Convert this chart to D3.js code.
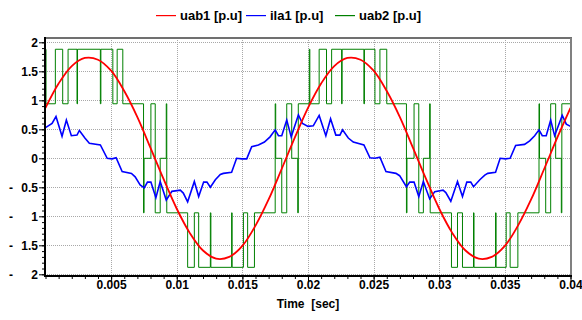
<!DOCTYPE html>
<html><head><meta charset="utf-8">
<script src="https://cdn.jsdelivr.net/npm/d3@7/dist/d3.min.js"></script>
<style>
html,body{margin:0;padding:0;background:#fff;}
svg text{font-family:"Liberation Sans",Arial,sans-serif;font-weight:bold;font-size:12px;fill:#000;}
</style></head><body>
<svg id="chart" width="582" height="320"></svg>
<script>
// ---------- data ----------
const seriesNames = ["uab1 [p.u]", "ila1 [p.u]", "uab2 [p.u]"];
const xAxisTitle = "Time  [sec]";
const xTicks = [0.005, 0.01, 0.015, 0.02, 0.025, 0.03, 0.035, 0.04];
const xTickLabels = ["0.005", "0.01", "0.015", "0.02", "0.025", "0.03", "0.035", "0.04"];
const yTicks = [-2, -1.5, -1, -0.5, 0, 0.5, 1, 1.5, 2];
const yTickLabels = ["- 2", "- 1.5", "- 1", "- 0.5", "0", "0.5", "1", "1.5", "2"];

const uab1Time = [0,0.001,0.002,0.003,0.004,0.005,0.006,0.007,0.008,0.009,0.010,0.011,0.012,0.013,0.014,0.015,0.016,0.017,0.018,0.019,
  0.020,0.021,0.022,0.023,0.024,0.025,0.026,0.027,0.028,0.029,0.030,0.031,0.032,0.033,0.034,0.035,0.036,0.037,0.038,0.039,0.040];
const uab1Val = [0.87,1.29,1.59,1.73,1.70,1.51,1.16,0.71,0.18,-0.36,-0.87,-1.29,-1.59,-1.73,-1.70,-1.51,-1.16,-0.71,-0.18,0.36,
  0.87,1.29,1.59,1.73,1.70,1.51,1.16,0.71,0.18,-0.36,-0.87,-1.29,-1.59,-1.73,-1.70,-1.51,-1.16,-0.71,-0.18,0.36,0.87];

const ila1Time = [0,0.0005,0.0008,0.00126,0.00159,0.00197,0.0024,0.00258,0.003,0.00334,0.00418,0.0047,0.00508,0.00538,0.00584,0.00655,
  0.00683,0.00721,0.00752,0.00777,0.00803,0.00841,0.00874,0.0092,0.00963,0.01027,0.0105,0.01083,0.01134,0.01167,0.01205,0.0123,0.01256,
  0.01294,0.01332,0.01355,0.01418,0.01456,0.01495,0.01533,0.01571,0.01622,0.01668,0.01711,0.0175,0.01775,0.018,0.01838,0.01872,0.01927,
  0.01958,0.02,0.0204,0.02085,0.02136,0.02172,0.02212,0.02243,0.02263,0.02307,0.02345,0.02426,0.02472,0.0251,0.02548,0.02594,0.0267,
  0.02698,0.0275,0.02775,0.02808,0.02844,0.02879,0.02927,0.02966,0.03029,0.0305,0.03088,0.03139,0.03177,0.0321,0.0324,0.03261,0.03309,
  0.03347,0.0337,0.03429,0.03464,0.03505,0.0354,0.03582,0.0365,0.03689,0.03727,0.0376,0.03785,0.03815,0.03849,0.03879,0.03937,0.03968,0.04];
const ila1Val = [0.53,0.60,0.72,0.38,0.66,0.39,0.40,0.48,0.35,0.26,0.23,0.0,-0.01,0.01,-0.23,-0.26,
  -0.32,-0.46,-0.51,-0.41,-0.41,-0.68,-0.40,-0.72,-0.57,-0.55,-0.60,-0.75,-0.40,-0.66,-0.41,-0.41,-0.50,
  -0.37,-0.28,-0.26,-0.24,0.0,-0.01,-0.01,0.20,0.23,0.28,0.37,0.49,0.39,0.39,0.66,0.37,0.75,
  0.60,0.55,0.56,0.74,0.39,0.68,0.40,0.40,0.49,0.35,0.28,0.23,0.01,0.0,0.02,-0.23,-0.26,
  -0.30,-0.49,-0.41,-0.41,-0.66,-0.40,-0.70,-0.575,-0.55,-0.59,-0.74,-0.40,-0.66,-0.41,-0.41,-0.49,-0.37,
  -0.29,-0.26,-0.24,0.0,-0.01,0.0,0.22,0.24,0.30,0.39,0.49,0.39,0.39,0.66,0.39,0.74,0.59,0.55];

// step signal: level holds from each time until the next one
const uab2Time = [0,0.00004,0.00075,0.00131,0.00172,0.0024,0.00244,0.00418,0.00422,0.00513,0.00546,0.00589,
  0.00747,0.00751,0.00803,0.00836,0.00874,0.0092,0.00924,0.01083,0.01134,0.01167,0.01256,0.0126,0.01418,0.01422,
  0.01508,0.0154,0.01592,0.0175,0.01754,0.018,0.01838,0.01876,0.01922,0.01926,0.0201,0.02014,0.02085,0.02141,
  0.0218,0.02256,0.0226,0.02426,0.0243,0.0251,0.02548,0.026,0.0275,0.02754,0.02808,0.02844,0.02879,0.02927,0.02931,
  0.03093,0.03139,0.03177,0.03261,0.03265,0.03429,0.03433,0.0351,0.0354,0.03599,0.0376,0.03764,0.03811,0.03849,
  0.03887,0.0393,0.03934,0.04];
const uab2Level = [1.88,0.94,1.88,0.94,1.88,0.94,1.88,0.94,1.88,0.94,1.88,0.94,
  -0.94,0,0.94,-0.94,0,0.94,-0.94,-1.88,-0.94,-1.88,-0.94,-1.88,-0.94,-1.88,
  -0.94,-1.88,-0.94,0.94,0,-0.94,0.94,0,-0.94,0.94,1.88,0.94,1.88,0.94,
  1.88,0.94,1.88,0.94,1.88,0.94,1.88,0.94,-0.94,0,0.94,-0.94,0,0.94,-0.94,
  -1.88,-0.94,-1.88,-0.94,-1.88,-0.94,-1.88,-0.94,-1.88,-0.94,0.94,0,-0.94,0.94,
  0,-0.94,0.94,0.94];

// ---------- drawing ----------
const svg = d3.select("#chart");
const L = 45, R = 571, T = 38, B = 276;
const x = d3.scaleLinear().domain([0, 0.04]).range([45.5, 570.5]);
const y = d3.scaleLinear().domain([-2, 2]).range([274.3, 42.3]);

// grid
const grid = svg.append("g").attr("stroke", "#a8a8a8").attr("stroke-width", 1).attr("stroke-dasharray", "1,1");
grid.selectAll("line.h").data(yTicks).join("line").attr("class", "h")
  .attr("x1", L).attr("x2", R).attr("y1", d => Math.round(y(d)) + 0.5).attr("y2", d => Math.round(y(d)) + 0.5);
grid.selectAll("line.v").data(xTicks.slice(0, -1)).join("line").attr("class", "v")
  .attr("y1", T).attr("y2", B).attr("x1", d => Math.round(x(d)) + 0.5).attr("x2", d => Math.round(x(d)) + 0.5);

// series
const plot = svg.append("g");
const green = uab2Time.map((t, i) => [t, uab2Level[i]]);
const blue = ila1Time.map((t, i) => [t, ila1Val[i]]);
const red = uab1Time.map((t, i) => [t, uab1Val[i]]);
plot.append("path").datum(green).attr("fill", "none").attr("stroke", "#008000").attr("stroke-width", 1)
  .attr("d", d3.line().x(d => x(d[0])).y(d => y(d[1])).curve(d3.curveStepAfter));
plot.append("path").datum(blue).attr("fill", "none").attr("stroke", "#0000ff").attr("stroke-width", 1.6)
  .attr("d", d3.line().x(d => x(d[0])).y(d => y(d[1])));
plot.append("path").datum(red).attr("fill", "none").attr("stroke", "#ff0000").attr("stroke-width", 1.8)
  .attr("d", d3.line().x(d => x(d[0])).y(d => y(d[1])).curve(d3.curveCatmullRom));

// frame top/right
svg.append("line").attr("x1", L).attr("x2", R + 1).attr("y1", T).attr("y2", T).attr("stroke", "#707070").attr("stroke-width", 2);
svg.append("line").attr("x1", R).attr("x2", R).attr("y1", T).attr("y2", B).attr("stroke", "#808080").attr("stroke-width", 2);

// y axis
const yMinor = d3.range(-20, 21).map(k => k / 10);
const ya = svg.append("g").attr("transform", `translate(${L},0)`);
ya.append("g").call(d3.axisLeft(y).tickValues(yMinor).tickSize(3).tickFormat("")).call(g => g.select(".domain").remove());
const yMaj = ya.append("g").call(d3.axisLeft(y).tickValues(yTicks).tickSize(6).tickPadding(1).tickFormat(""))
  .call(g => g.select(".domain").remove());
yMaj.selectAll(".tick").each(function(d, i) {
  const lab = yTickLabels[i];
  const t = d3.select(this).append("text").attr("text-anchor", "end").attr("dy", "0.35em");
  if (lab.startsWith("- ")) {
    t.append("tspan").attr("x", -32).text("-");
    t.append("tspan").attr("x", -7).text(lab.slice(2));
  } else {
    t.append("tspan").attr("x", -7).text(lab);
  }
});

// x axis
const xMinor = d3.range(0, 41).map(k => k / 1000);
const xa = svg.append("g").attr("transform", `translate(0,${B})`);
xa.append("g").call(d3.axisBottom(x).tickValues(xMinor).tickSize(3).tickFormat("")).call(g => g.select(".domain").remove());
xa.append("g").call(d3.axisBottom(x).tickValues(xTicks).tickSize(6).tickPadding(-2).tickFormat((d, i) => xTickLabels[i]))
  .call(g => g.select(".domain").remove())
  .call(g => g.selectAll("text").attr("fill", "#000").style("font-size", "12px").style("font-family", "'Liberation Sans',Arial,sans-serif").style("font-weight", "bold"));
svg.selectAll(".tick line").attr("stroke", "#000");

// axis lines
svg.append("line").attr("x1", L).attr("x2", L).attr("y1", T - 1).attr("y2", B + 1).attr("stroke", "#000").attr("stroke-width", 2);
svg.append("line").attr("x1", L - 1).attr("x2", R + 1).attr("y1", B).attr("y2", B).attr("stroke", "#000").attr("stroke-width", 2);

// x title
svg.append("text").attr("x", 308).attr("y", 308).attr("text-anchor", "middle").style("white-space", "pre").text(xAxisTitle);

// legend
const legendColors = ["#ff0000", "#0000ff", "#008000"];
const legendX = [156, 246, 335];
const lg = svg.append("g");
seriesNames.forEach((name, i) => {
  lg.append("rect").attr("x", legendX[i]).attr("y", 15).attr("width", 20).attr("height", 1.2)
    .attr("fill", legendColors[i]);
  lg.append("text").attr("x", legendX[i] + 24).attr("y", 20).style("font-size", "13px").text(name);
});
</script>
</body></html>
